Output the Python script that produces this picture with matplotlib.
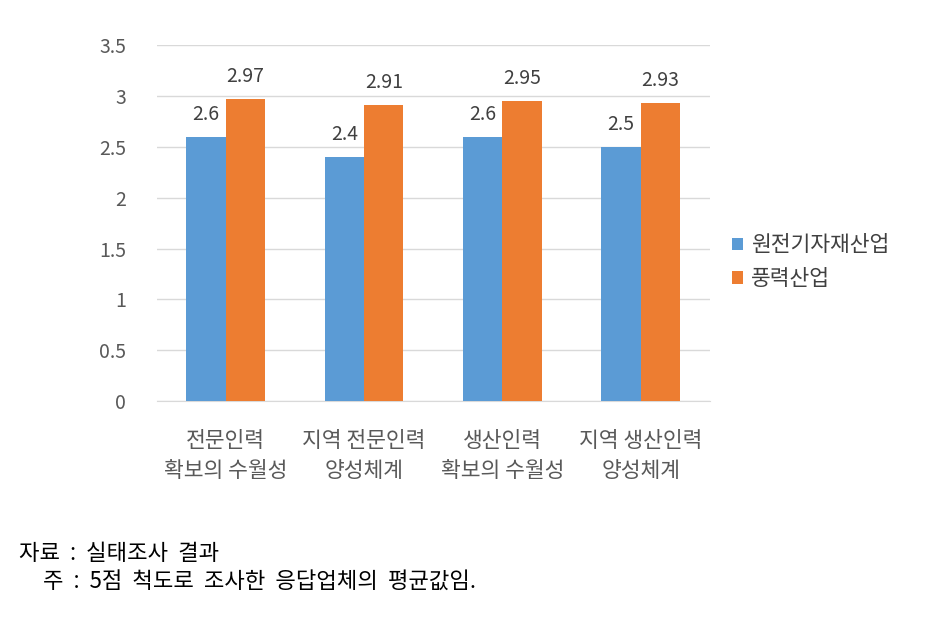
import numpy as np
import matplotlib.pyplot as plt

plt.rcParams['font.family'] = ['Noto Sans CJK KR', 'DejaVu Sans']

categories = ['전문인력\n확보의 수월성', '지역 전문인력\n양성체계', '생산인력\n확보의 수월성', '지역 생산인력\n양성체계']
nuclear = [2.6, 2.4, 2.6, 2.5]
wind = [2.97, 2.91, 2.95, 2.93]
series_names = ['원전기자재산업', '풍력산업']

fig = plt.figure(figsize=(9.49, 6.2), dpi=100)
ax = fig.add_axes([0.165, 0.353, 0.583, 0.574])

x = np.arange(len(categories))
w = 0.285
b1 = ax.bar(x - w / 2, nuclear, w, color='#5B9BD5', label=series_names[0], zorder=3)
b2 = ax.bar(x + w / 2, wind, w, color='#ED7D31', label=series_names[1], zorder=3)

for bars, vals in ((b1, nuclear), (b2, wind)):
    for r, v in zip(bars, vals):
        ax.text(r.get_x() + r.get_width() / 2, v + 0.12, f'{v:g}', ha='center', va='bottom',
                fontsize=14, color='#404040')

ax.set_xlim(-0.5, len(categories) - 0.5)
ax.set_ylim(0, 3.5)
ax.set_yticks(np.arange(0, 3.51, 0.5))
ax.set_yticklabels(['0', '0.5', '1', '1.5', '2', '2.5', '3', '3.5'])
ax.yaxis.grid(True, color='#D9D9D9', linewidth=1, zorder=0)
for s in ['top', 'right', 'left']:
    ax.spines[s].set_visible(False)
ax.spines['bottom'].set_color('#D9D9D9')
ax.tick_params(axis='both', length=0, labelsize=14, labelcolor='#595959')
ax.tick_params(axis='y', pad=22)
ax.tick_params(axis='x', pad=21, labelsize=15.5)
ax.set_xticks(x)
ax.set_xticklabels(categories, linespacing=1.45)

ax.legend(loc='center left', bbox_to_anchor=(1.005, 0.39), frameon=False, fontsize=15.5,
          handlelength=0.5, handleheight=0.5, handletextpad=0.4, labelspacing=0.55,
          labelcolor='#404040')

fig.text(0.02, 0.108, '자료  :  실태조사  결과', fontsize=16, color='black', va='center')
fig.text(0.045, 0.063, '주  :  5점  척도로  조사한  응답업체의  평균값임.', fontsize=16, color='black', va='center')

fig.savefig('out.png', dpi=100)
